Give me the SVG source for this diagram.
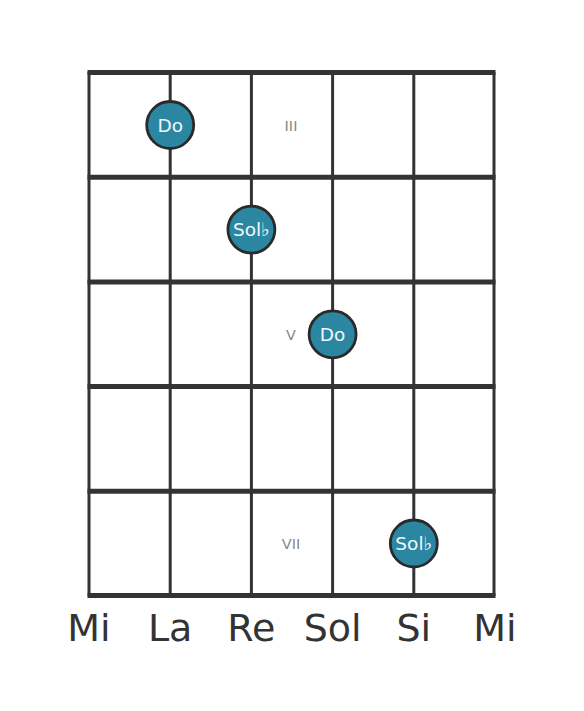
<svg xmlns="http://www.w3.org/2000/svg" width="584" height="711" viewBox="0 0 584 711">
<style>
.str{stroke:#333;stroke-width:3;fill:none}
.fret{stroke:#333;stroke-width:5;fill:none}
.dot{fill:#2b86a1;stroke:#2a2a2a;stroke-width:2.8}
.note{font-family:"DejaVu Sans",sans-serif;font-size:18.5px;fill:#eef8fb;text-anchor:middle;dominant-baseline:central}
.fl{font-family:"DejaVu Sans",sans-serif;font-size:14.5px;fill:#888;text-anchor:middle;dominant-baseline:central}
.sn{font-family:"DejaVu Sans",sans-serif;font-size:38px;fill:#333;text-anchor:middle}
</style>
<rect width="584" height="711" fill="#fff"/>
<g id="connectors">
<line class="str" x1="89" y1="72" x2="89" y2="596"/>
<line class="str" x1="170.2" y1="72" x2="170.2" y2="596"/>
<line class="str" x1="251.4" y1="72" x2="251.4" y2="596"/>
<line class="str" x1="332.6" y1="72" x2="332.6" y2="596"/>
<line class="str" x1="413.8" y1="72" x2="413.8" y2="596"/>
<line class="str" x1="494" y1="72" x2="494" y2="596"/>
<line class="fret" x1="87.5" y1="72.5" x2="495.5" y2="72.5"/>
<line class="fret" x1="87.5" y1="177.2" x2="495.5" y2="177.2"/>
<line class="fret" x1="87.5" y1="281.9" x2="495.5" y2="281.9"/>
<line class="fret" x1="87.5" y1="386.6" x2="495.5" y2="386.6"/>
<line class="fret" x1="87.5" y1="491.3" x2="495.5" y2="491.3"/>
<line class="fret" x1="87.5" y1="595.5" x2="495.5" y2="595.5"/>
</g>
<g id="fret-labels">
<text class="fl" x="291" y="126">III</text>
<text class="fl" x="291" y="335">V</text>
<text class="fl" x="291" y="544">VII</text>
</g>
<g id="note1"><circle class="dot" cx="170.2" cy="125" r="23.5"/><text class="note" x="170.2" y="125">Do</text></g>
<g id="note2"><circle class="dot" cx="251.4" cy="229.6" r="23.5"/><text class="note" x="251.4" y="229.6">Sol♭</text></g>
<g id="note3"><circle class="dot" cx="332.6" cy="334.3" r="23.5"/><text class="note" x="332.6" y="334.3">Do</text></g>
<g id="note4"><circle class="dot" cx="413.8" cy="543.5" r="23.5"/><text class="note" x="413.8" y="543.5">Sol♭</text></g>
<g id="string-names">
<text class="sn" x="89" y="641">Mi</text>
<text class="sn" x="170.2" y="641">La</text>
<text class="sn" x="251.4" y="641">Re</text>
<text class="sn" x="332.6" y="641">Sol</text>
<text class="sn" x="413.8" y="641">Si</text>
<text class="sn" x="495" y="641">Mi</text>
</g>
</svg>
